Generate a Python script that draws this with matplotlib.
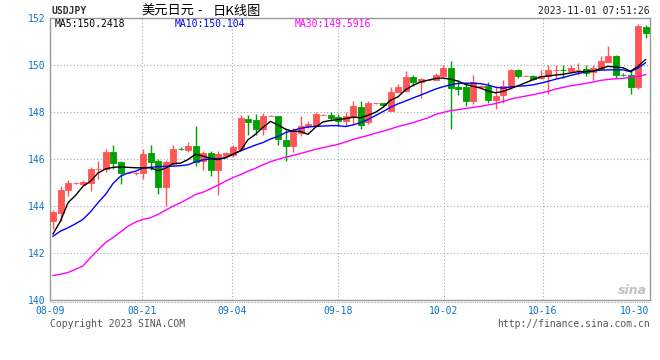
import numpy as np
import matplotlib.pyplot as plt

# daily candles, USDJPY
opens = [143.33, 143.67, 144.69, 144.97, 144.94, 144.98, 145.56, 145.57, 146.31, 145.86,
         145.40, 145.40, 145.40, 146.26, 145.89, 144.79, 145.80, 146.44, 146.40, 146.57,
         145.93, 146.26, 145.54, 146.11, 146.18, 146.43, 147.72, 147.67, 147.28, 147.83,
         147.84, 146.82, 146.54, 147.11, 147.39, 147.42, 147.87, 147.89, 147.77, 147.60,
         147.79, 148.21, 147.56, 148.37, 148.38, 148.06, 148.85, 148.91, 149.49, 149.30,
         149.36, 149.37, 149.52, 149.87, 149.06, 149.06, 148.49, 149.05, 149.13, 148.52,
         148.74, 149.06, 149.80, 149.53, 149.54, 149.45, 149.52, 149.79, 149.81, 149.77,
         149.79, 149.84, 149.70, 149.83, 150.15, 150.40, 149.60, 149.59, 149.05, 151.64]
highs = [143.81, 144.83, 145.12, 145.00, 145.10, 145.64, 145.90, 146.43, 146.61, 145.90,
         145.42, 145.42, 146.43, 146.58, 146.00, 145.97, 146.60, 146.50, 146.70, 147.42,
         146.32, 146.32, 146.32, 146.30, 146.60, 147.89, 147.89, 147.93, 147.95, 147.86,
         147.84, 147.28, 147.30, 147.81, 147.60, 148.00, 147.90, 148.00, 147.90, 148.00,
         148.45, 148.48, 148.45, 148.40, 148.38, 149.06, 149.20, 149.77, 149.60, 149.45,
         149.38, 149.65, 150.00, 150.18, 149.37, 149.23, 149.59, 149.15, 149.30, 149.06,
         149.37, 149.85, 149.85, 149.56, 149.60, 149.80, 150.01, 150.01, 150.01, 150.00,
         150.10, 150.00, 150.00, 150.37, 150.82, 150.44, 149.65, 149.73, 151.76, 151.71]
lows = [143.02, 143.35, 144.41, 144.95, 144.90, 144.65, 145.15, 145.43, 145.57, 144.94,
        145.39, 145.30, 145.15, 145.51, 144.52, 144.01, 145.76, 146.36, 146.30, 145.68,
        145.54, 145.29, 144.44, 146.05, 146.10, 146.40, 147.03, 147.03, 147.03, 147.82,
        146.60, 145.90, 146.30, 146.96, 147.30, 147.40, 147.86, 147.60, 147.40, 147.40,
        147.46, 147.29, 147.50, 148.36, 148.20, 148.03, 148.80, 148.85, 149.10, 148.60,
        149.35, 149.35, 149.50, 147.29, 148.74, 148.24, 148.35, 149.00, 148.40, 148.14,
        148.38, 149.00, 149.45, 149.52, 149.35, 149.40, 148.78, 149.45, 149.45, 149.70,
        149.60, 149.55, 149.36, 149.80, 150.13, 149.47, 149.52, 148.78, 149.00, 151.17]
closes = [143.73, 144.69, 144.98, 144.98, 145.02, 145.59, 145.57, 146.28, 145.83, 145.40,
          145.41, 145.41, 146.23, 145.87, 144.79, 145.86, 146.43, 146.43, 146.57, 145.86,
          146.26, 145.51, 146.23, 146.26, 146.49, 147.73, 147.59, 147.28, 147.84, 147.84,
          146.85, 146.54, 147.22, 147.42, 147.49, 147.91, 147.88, 147.74, 147.60, 147.84,
          148.24, 147.46, 148.38, 148.38, 148.31, 148.85, 149.05, 149.49, 149.28, 149.42,
          149.37, 149.56, 149.86, 149.02, 148.98, 148.49, 149.28, 149.12, 148.52, 148.69,
          149.12, 149.80, 149.52, 149.54, 149.40, 149.54, 149.80, 149.80, 149.80, 149.90,
          149.80, 149.66, 149.90, 150.18, 150.40, 149.59, 149.59, 149.05, 151.69, 151.39]

ma5 = [142.80, 143.35, 144.13, 144.44, 144.83, 145.05, 145.40, 145.57, 145.64, 145.66,
       145.64, 145.62, 145.62, 145.62, 145.50, 145.60, 145.80, 145.82, 145.97, 146.20,
       146.12, 146.02, 145.97, 146.05, 146.20, 146.35, 146.82, 147.05, 147.35, 147.60,
       147.45, 147.27, 147.18, 147.17, 147.05, 147.35, 147.58, 147.64, 147.68, 147.72,
       147.78, 147.76, 147.86, 147.99, 148.20, 148.50, 148.65, 148.95, 149.14, 149.28,
       149.36, 149.43, 149.45, 149.40, 149.32, 149.18, 149.10, 149.02, 148.90, 148.82,
       148.88, 149.00, 149.12, 149.25, 149.38, 149.50, 149.54, 149.58, 149.61, 149.67,
       149.72, 149.73, 149.74, 149.85, 149.95, 149.92, 149.89, 149.74, 149.95, 150.24]
ma10 = [142.70, 142.92, 143.06, 143.23, 143.42, 143.74, 144.13, 144.48, 144.95, 145.26,
        145.40, 145.47, 145.62, 145.64, 145.67, 145.68, 145.69, 145.71, 145.75, 145.87,
        145.96, 146.00, 146.00, 146.05, 146.20, 146.34, 146.47, 146.59, 146.70, 146.85,
        146.96, 147.12, 147.22, 147.30, 147.36, 147.39, 147.40, 147.42, 147.42, 147.38,
        147.45, 147.55, 147.68, 147.85, 148.02, 148.20, 148.35, 148.47, 148.60, 148.72,
        148.85, 148.98, 149.08, 149.16, 149.22, 149.23, 149.23, 149.21, 149.15, 149.06,
        149.02, 149.07, 149.10, 149.12, 149.16, 149.23, 149.31, 149.40, 149.47, 149.56,
        149.64, 149.71, 149.75, 149.79, 149.80, 149.80, 149.80, 149.72, 149.88, 150.10]
ma30 = [141.02, 141.08, 141.15, 141.29, 141.43, 141.79, 142.11, 142.43, 142.64, 142.88,
        143.13, 143.30, 143.42, 143.49, 143.63, 143.81, 143.98, 144.13, 144.30, 144.48,
        144.58, 144.72, 144.88, 145.05, 145.20, 145.33, 145.48, 145.60, 145.75, 145.88,
        145.98, 146.07, 146.15, 146.23, 146.32, 146.41, 146.48, 146.55, 146.62, 146.72,
        146.83, 146.92, 147.00, 147.10, 147.18, 147.28, 147.38, 147.46, 147.55, 147.65,
        147.75, 147.90, 147.98, 148.06, 148.10, 148.15, 148.20, 148.24, 148.30, 148.36,
        148.45, 148.55, 148.62, 148.68, 148.74, 148.81, 148.88, 148.98, 149.05, 149.12,
        149.17, 149.22, 149.28, 149.35, 149.39, 149.42, 149.44, 149.48, 149.53, 149.59]

date_labels = ['08-09', '08-21', '09-04', '09-18', '10-02', '10-16', '10-30']
date_pos = [-0.4, 11.82, 23.85, 38.06, 52.09, 65.32, 77.56]
grid_pos = date_pos[1:-1]
y_ticks = [140, 142, 144, 146, 148, 150, 152]

RED = '#ff5555'
GREEN = '#00a000'
BLUE_TXT = '#0a74c4'
MONO = 'DejaVu Sans Mono'
CJK = ['Noto Sans CJK SC', 'DejaVu Sans']
FS = 7

W, H = 660, 360
fig = plt.figure(figsize=(W / 100, H / 100), dpi=100)
ax = fig.add_axes([50 / W, 1 - 299.5 / H, 600 / W, (299.5 - 18.3) / H])

o = np.array(opens)
c = np.array(closes)
x = np.arange(len(c))
cols = [RED if cc >= oo else GREEN for oo, cc in zip(o, c)]

# dotted grid
for yv in y_ticks[1:-1]:
    ax.axhline(yv, color='#aaaaaa', lw=0.8, ls=(0, (1, 2)), zorder=0)
for xv in grid_pos:
    ax.axvline(xv, color='#aaaaaa', lw=0.8, ls=(0, (1, 2)), zorder=0)

ax.vlines(x, lows, highs, colors=cols, lw=1, zorder=2)
ax.bar(x, np.abs(c - o), bottom=np.minimum(o, c), width=0.8, color=cols,
       edgecolor=cols, linewidth=0.6, zorder=3)

ax.plot(x, ma30, color='#ff00ff', lw=1, zorder=4)
ax.plot(x, ma10, color='#0000ff', lw=1, zorder=4)
ax.plot(x, ma5, color='black', lw=1, zorder=4)

ax.set_xlim(-0.4, 79.6)
ax.set_ylim(140, 152)
ax.set_yticks(y_ticks)
ax.set_yticklabels([str(v) for v in y_ticks], fontfamily=MONO, fontsize=FS, color=BLUE_TXT)
ax.set_xticks(date_pos)
ax.set_xticklabels(date_labels, fontfamily=MONO, fontsize=FS, color=BLUE_TXT)
ax.tick_params(axis='y', length=0, pad=3)
ax.tick_params(axis='x', length=0, pad=4.5)
for s in ax.spines.values():
    s.set_color('#999999')
    s.set_linewidth(1)

# dotted rule under the plot frame
fig.add_artist(plt.Line2D([50 / W, 650 / W], [1 - 302 / H] * 2, color='#aaaaaa',
                          lw=0.8, ls=(0, (1, 1))))


def ftext(px, py, s, **kw):
    fig.text(px / W, 1 - py / H, s, va='center', **kw)


ftext(51, 11, 'USDJPY', fontfamily=MONO, fontsize=FS, color='#333333', fontweight='bold')
# title drawn in two pieces to get the wide gaps round the dash
ftext(141, 11, '美元日元', fontfamily=CJK, fontsize=9.5, color='black')
ftext(197, 11, '-', fontfamily=CJK, fontsize=9.5, color='black')
ftext(213, 11, '日K线图', fontfamily=CJK, fontsize=9.5, color='black')
ftext(650, 11, '2023-11-01 07:51:26', fontfamily=MONO, fontsize=FS, color='#222222', ha='right')

ftext(55, 24, 'MA5:150.2418', fontfamily=MONO, fontsize=FS, color='black')
ftext(175, 24, 'MA10:150.104', fontfamily=MONO, fontsize=FS, color='#0000ff')
ftext(295, 24, 'MA30:149.5916', fontfamily=MONO, fontsize=FS, color='#ff00ff')

ftext(50, 324, 'Copyright 2023 SINA.COM', fontfamily=MONO, fontsize=FS, color='#555555')
ftext(650, 324, 'http://finance.sina.com.cn', fontfamily=MONO, fontsize=FS,
      color='#555555', ha='right')
ftext(647, 291, 'sina', fontsize=9, color='#c0c0c0', ha='right',
      fontstyle='italic', fontweight='bold')

fig.savefig('out.png', dpi=100)
